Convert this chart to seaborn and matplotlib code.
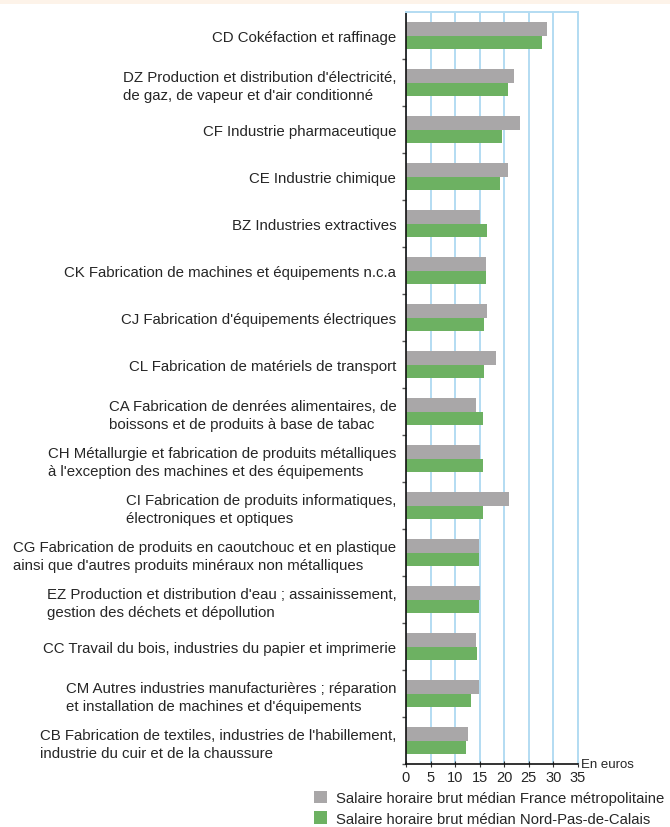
import matplotlib
matplotlib.use("Agg")
import matplotlib.pyplot as plt
import matplotlib.patches as mpatches
import pandas as pd
import seaborn as sns

# Salaire horaire brut médian par secteur (en euros)
SECTEURS = [
    "CD Cokéfaction et raffinage",
    "DZ Production et distribution d'électricité,\nde gaz, de vapeur et d'air conditionné",
    "CF Industrie pharmaceutique",
    "CE Industrie chimique",
    "BZ Industries extractives",
    "CK Fabrication de machines et équipements n.c.a",
    "CJ Fabrication d'équipements électriques",
    "CL Fabrication de matériels de transport",
    "CA Fabrication de denrées alimentaires, de\nboissons et de produits à base de tabac",
    "CH Métallurgie et fabrication de produits métalliques\nà l'exception des machines et des équipements",
    "CI Fabrication de produits informatiques,\nélectroniques et optiques",
    "CG Fabrication de produits en caoutchouc et en plastique\nainsi que d'autres produits minéraux non métalliques",
    "EZ Production et distribution d'eau ; assainissement,\ngestion des déchets et dépollution",
    "CC Travail du bois, industries du papier et imprimerie",
    "CM Autres industries manufacturières ; réparation\net installation de machines et d'équipements",
    "CB Fabrication de textiles, industries de l'habillement,\nindustrie du cuir et de la chaussure",
]
FRANCE = [28.7, 22.0, 23.2, 20.8, 15.0, 16.3, 16.5, 18.3, 14.2, 15.0, 21.0, 14.8, 15.0, 14.2, 14.8, 12.6]
NPDC = [27.7, 20.8, 19.5, 19.1, 16.5, 16.3, 15.9, 15.9, 15.7, 15.7, 15.7, 14.8, 14.8, 14.4, 13.2, 12.2]
SERIES = [
    "Salaire horaire brut médian France métropolitaine",
    "Salaire horaire brut médian Nord-Pas-de-Calais",
]
X_TICKS = [0, 5, 10, 15, 20, 25, 30, 35]

GRAY = "#a9a7a8"
GREEN = "#6db162"
GRID = "#b3dcf2"

df = pd.concat([
    pd.DataFrame({"secteur": SECTEURS, "valeur": FRANCE, "serie": SERIES[0]}),
    pd.DataFrame({"secteur": SECTEURS, "valeur": NPDC, "serie": SERIES[1]}),
], ignore_index=True)

sns.set_style("white")
plt.rcParams["font.family"] = ["Liberation Sans", "DejaVu Sans"]

W, H = 670, 828
fig = plt.figure(figsize=(W / 100, H / 100), dpi=100)
ax = fig.add_axes([406 / W, 1 - 765 / H, (578 - 406) / W, (765 - 13) / H])

# cropped header band
fig.patches.append(mpatches.Rectangle((0, 1 - 5 / H), 1, 5 / H, transform=fig.transFigure,
                                      facecolor="#fdf3e9", edgecolor="none", zorder=0))

sns.barplot(data=df, y="secteur", x="valeur", hue="serie", order=SECTEURS, hue_order=SERIES,
            palette=[GRAY, GREEN], orient="h", width=0.58, linewidth=0, saturation=1,
            errorbar=None, ax=ax)

handles, labels = ax.get_legend_handles_labels()
ax.get_legend().remove()

ax.set_xlim(0, 35)
ax.set_ylim(15.5, -0.5)
ax.set_xticks(X_TICKS)
ax.set_xticklabels([str(t) for t in X_TICKS], fontsize=10.5)
ax.xaxis.grid(True, color=GRID, linewidth=1.4)
ax.set_axisbelow(True)
ax.set_xlabel("")
ax.set_ylabel("")

ax.set_yticks(range(len(SECTEURS)))
ax.set_yticklabels(SECTEURS, fontsize=10.8, ha="right", multialignment="left", linespacing=1.4)
ax.tick_params(axis="y", which="major", length=0, pad=7)
ax.set_yticks([i + 0.5 for i in range(len(SECTEURS))], minor=True)
ax.tick_params(axis="y", which="minor", length=3, width=1, color="#555555", left=True)
ax.tick_params(axis="x", length=4, width=0.8, direction="inout", color="#333333", pad=2, bottom=True)

for side in ["left", "bottom"]:
    ax.spines[side].set_color("#111111")
    ax.spines[side].set_linewidth(1.2)
for side in ["top", "right"]:
    ax.spines[side].set_color(GRID)
    ax.spines[side].set_linewidth(1.4)

ax.text(1.02, 0.0, "En euros", transform=ax.transAxes, fontsize=9.5, ha="left", va="center")

fig.legend(handles, labels, loc="upper left", bbox_to_anchor=(314 / W, 1 - 792 / H),
           frameon=False, fontsize=10.7, handlelength=0.9, handleheight=0.9,
           handletextpad=0.6, labelspacing=0.4, borderpad=0, borderaxespad=0)

fig.savefig("out.png", dpi=100)
